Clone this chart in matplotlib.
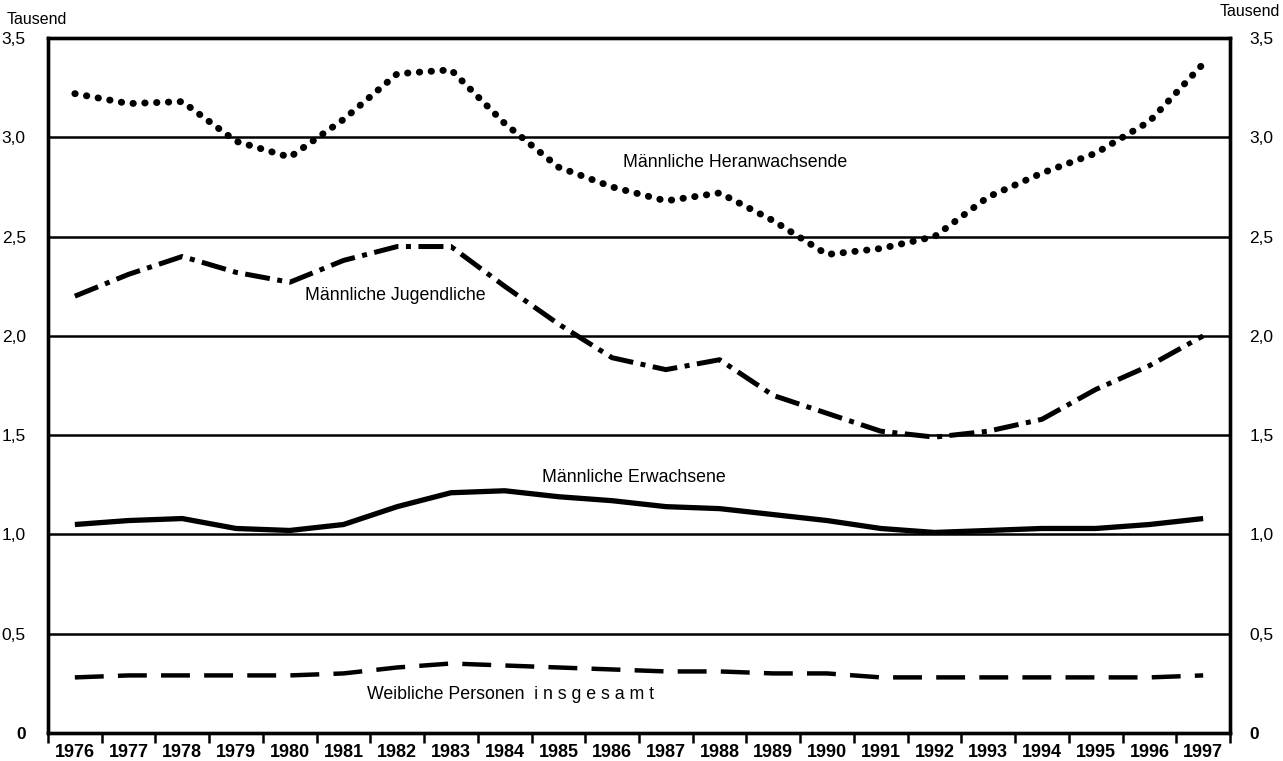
import matplotlib.pyplot as plt
import numpy as np

plt.rcParams["font.family"] = ["Liberation Sans", "DejaVu Sans"]

jahre = list(range(1976, 1998))
heranwachsende = [3.22, 3.17, 3.18, 2.98, 2.90, 3.09, 3.32, 3.34, 3.07, 2.85, 2.75,
                  2.68, 2.72, 2.58, 2.41, 2.44, 2.50, 2.70, 2.82, 2.92, 3.08, 3.37]
jugendliche = [2.20, 2.31, 2.40, 2.32, 2.27, 2.38, 2.45, 2.45, 2.25, 2.06, 1.89,
               1.83, 1.88, 1.70, 1.61, 1.52, 1.49, 1.52, 1.58, 1.73, 1.85, 2.00]
erwachsene = [1.05, 1.07, 1.08, 1.03, 1.02, 1.05, 1.14, 1.21, 1.22, 1.19, 1.17,
              1.14, 1.13, 1.10, 1.07, 1.03, 1.01, 1.02, 1.03, 1.03, 1.05, 1.08]
weibliche = [0.28, 0.29, 0.29, 0.29, 0.29, 0.30, 0.33, 0.35, 0.34, 0.33, 0.32,
             0.31, 0.31, 0.30, 0.30, 0.28, 0.28, 0.28, 0.28, 0.28, 0.28, 0.29]
y_ticks = [0, 0.5, 1.0, 1.5, 2.0, 2.5, 3.0, 3.5]
y_labels = ["0", "0,5", "1,0", "1,5", "2,0", "2,5", "3,0", "3,5"]

fig = plt.figure(figsize=(12.83, 7.61), dpi=100)
ax = fig.add_axes([0.0374, 0.0368, 0.9213, 0.9132])
x = np.arange(len(jahre))

# horizontale Linien
for y in y_ticks[1:-1]:
    ax.axhline(y, color="black", lw=1.8, zorder=1)

ax.plot(x, heranwachsende, color="black", lw=5.0, linestyle=(0, (0.05, 1.65)),
        dash_capstyle="round")
ax.plot(x, jugendliche, color="black", lw=3.6, linestyle=(0, (5, 1.5, 1, 1.5)))
ax.plot(x, erwachsene, color="black", lw=3.8, solid_capstyle="butt")
ax.plot(x, weibliche, color="black", lw=3.2, linestyle=(0, (6.5, 3.2)))

ax.text(12.28, 2.875, "Männliche Heranwachsende", fontsize=12.8, ha="center", va="center")
ax.text(5.97, 2.205, "Männliche Jugendliche", fontsize=12.8, ha="center", va="center")
ax.text(10.4, 1.285, "Männliche Erwachsene", fontsize=12.8, ha="center", va="center")
ax.text(8.1, 0.195, "Weibliche Personen  i n s g e s a m t", fontsize=12.8,
        ha="center", va="center")

ax.set_xlim(-0.5, len(jahre) - 0.5)
ax.set_ylim(0, 3.5)
ax.set_xticks(x)
ax.set_xticklabels([str(j) for j in jahre], fontsize=13, fontweight="bold")
ax.set_xticks(np.arange(-0.5, len(jahre), 1), minor=True)
ax.tick_params(axis="x", which="major", length=0, pad=8)
ax.tick_params(axis="x", which="minor", length=7, width=1.8, direction="out")

ax.set_yticks(y_ticks)
ax.set_yticklabels(y_labels, fontsize=12.5)
ax.tick_params(axis="y", length=0, pad=16)
ax.get_yticklabels()[0].set_fontweight("bold")

ax2 = ax.twinx()
ax2.set_ylim(0, 3.5)
ax2.set_yticks(y_ticks)
ax2.set_yticklabels(y_labels, fontsize=12.5)
ax2.tick_params(axis="y", length=0, pad=14)
ax2.get_yticklabels()[0].set_fontweight("bold")

for a in (ax, ax2):
    for s in a.spines.values():
        s.set_linewidth(2.4)

fig.text(0.005, 0.974, "Tausend", fontsize=11.5, ha="left", va="center")
fig.text(0.998, 0.985, "Tausend", fontsize=11.5, ha="right", va="center")

fig.savefig("out.png", dpi=100)
